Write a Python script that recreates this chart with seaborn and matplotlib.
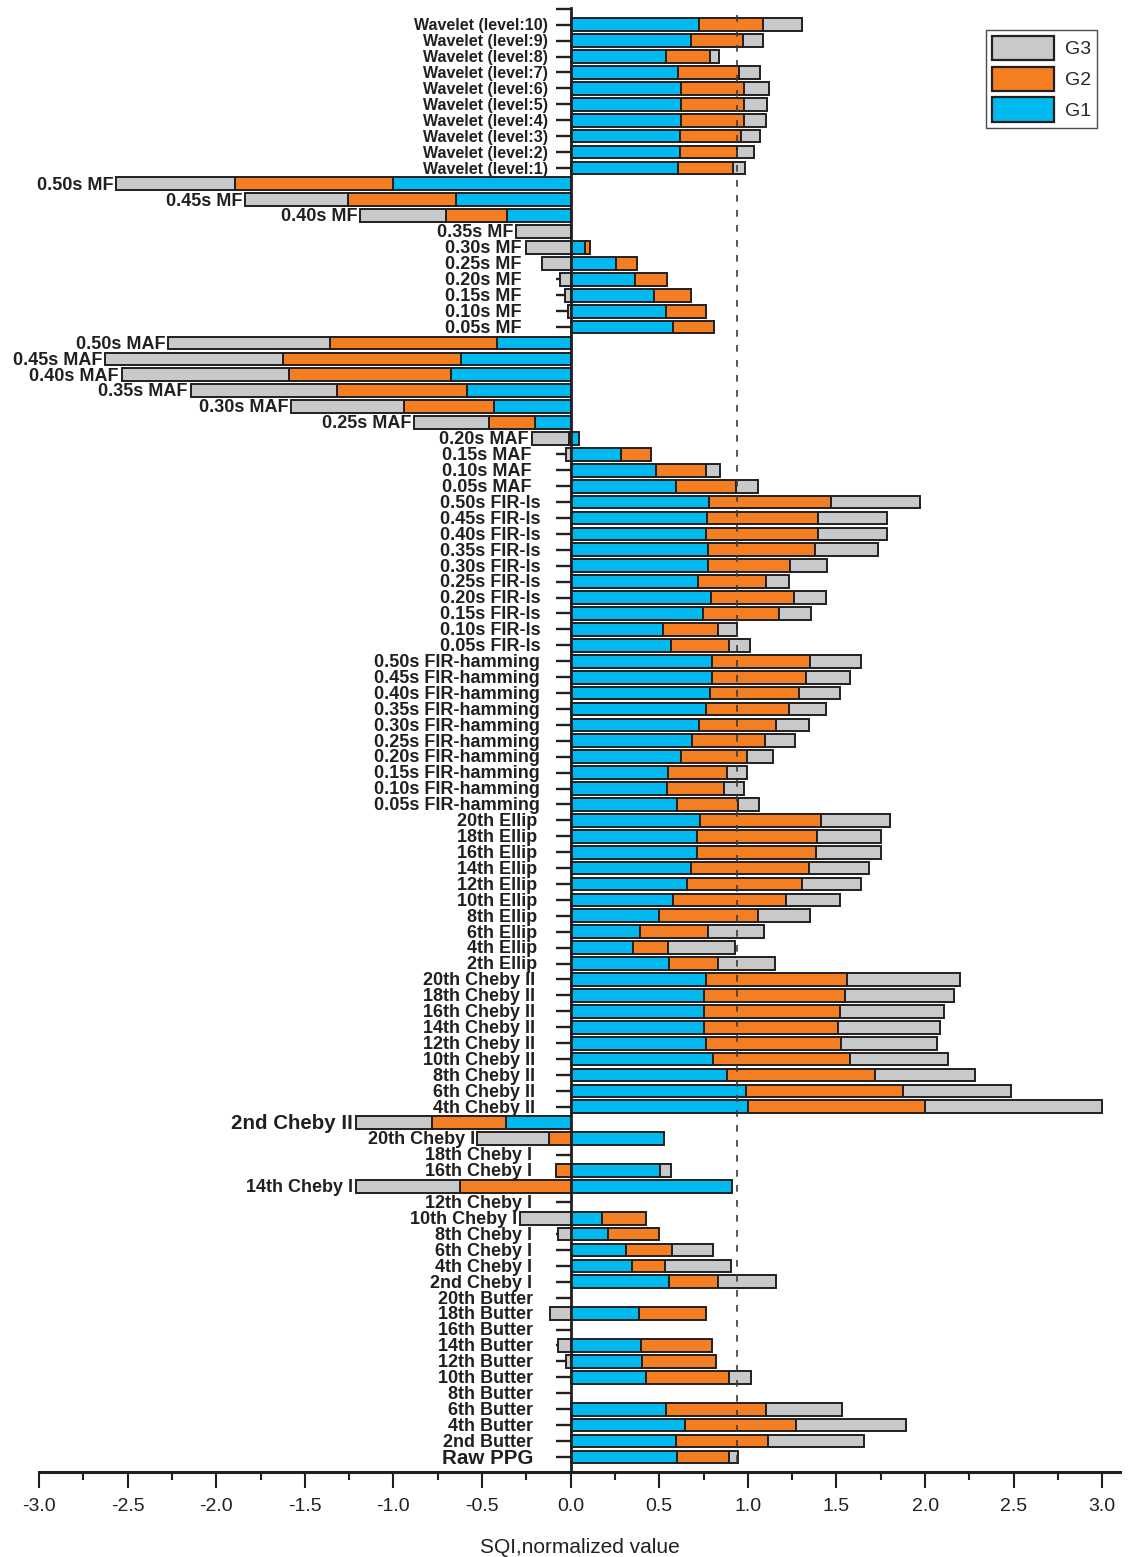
import numpy as np
import pandas as pd
import matplotlib
matplotlib.use("Agg")
import matplotlib.pyplot as plt
from matplotlib.patches import Patch
from matplotlib.ticker import MultipleLocator, FormatStrFormatter
import seaborn as sns

# ---- data, top row first ----
wavelet_labels = ["Wavelet (level:10)", "Wavelet (level:9)", "Wavelet (level:8)", "Wavelet (level:7)",
                  "Wavelet (level:6)", "Wavelet (level:5)", "Wavelet (level:4)", "Wavelet (level:3)",
                  "Wavelet (level:2)", "Wavelet (level:1)"]
wavelet_g1 = [0.727, 0.677, 0.539, 0.605, 0.624, 0.624, 0.620, 0.618, 0.615, 0.605]
wavelet_g2 = [0.358, 0.295, 0.250, 0.344, 0.357, 0.357, 0.356, 0.341, 0.325, 0.310]
wavelet_g3 = [0.221, 0.113, 0.051, 0.122, 0.136, 0.128, 0.124, 0.112, 0.094, 0.070]

mf_labels = ["0.50s MF", "0.45s MF", "0.40s MF", "0.35s MF", "0.30s MF",
             "0.25s MF", "0.20s MF", "0.15s MF", "0.10s MF", "0.05s MF"]
mf_g1 = [-1.000, -0.645, -0.360, 0, 0.083, 0.255, 0.366, 0.470, 0.538, 0.575]
mf_g2 = [-0.892, -0.611, -0.346, 0, 0.025, 0.117, 0.176, 0.207, 0.224, 0.234]
mf_g3 = [-0.673, -0.579, -0.481, -0.306, -0.253, -0.160, -0.060, -0.030, -0.017, 0]

maf_labels = ["0.50s MAF", "0.45s MAF", "0.40s MAF", "0.35s MAF", "0.30s MAF",
              "0.25s MAF", "0.20s MAF", "0.15s MAF", "0.10s MAF", "0.05s MAF"]
maf_g1 = [-0.414, -0.619, -0.673, -0.583, -0.430, -0.203, 0.047, 0.283, 0.479, 0.594]
maf_g2 = [-0.946, -1.004, -0.918, -0.738, -0.509, -0.259, -0.010, 0.170, 0.285, 0.340]
maf_g3 = [-0.911, -1.004, -0.943, -0.824, -0.637, -0.423, -0.210, -0.025, 0.081, 0.124]

firls_labels = ["0.50s FIR-ls", "0.45s FIR-ls", "0.40s FIR-ls", "0.35s FIR-ls", "0.30s FIR-ls",
                "0.25s FIR-ls", "0.20s FIR-ls", "0.15s FIR-ls", "0.10s FIR-ls", "0.05s FIR-ls"]
firls_g1 = [0.783, 0.768, 0.764, 0.777, 0.777, 0.721, 0.792, 0.749, 0.523, 0.566]
firls_g2 = [0.687, 0.628, 0.632, 0.604, 0.463, 0.381, 0.466, 0.428, 0.307, 0.330]
firls_g3 = [0.502, 0.387, 0.387, 0.353, 0.207, 0.132, 0.184, 0.180, 0.108, 0.117]

firham_labels = ["0.50s FIR-hamming", "0.45s FIR-hamming", "0.40s FIR-hamming", "0.35s FIR-hamming",
                 "0.30s FIR-hamming", "0.25s FIR-hamming", "0.20s FIR-hamming", "0.15s FIR-hamming",
                 "0.10s FIR-hamming", "0.05s FIR-hamming"]
firham_g1 = [0.796, 0.796, 0.787, 0.764, 0.726, 0.683, 0.621, 0.551, 0.545, 0.598]
firham_g2 = [0.557, 0.532, 0.500, 0.466, 0.434, 0.411, 0.373, 0.330, 0.323, 0.345]
firham_g3 = [0.287, 0.251, 0.232, 0.213, 0.183, 0.174, 0.148, 0.117, 0.113, 0.121]

ellip_labels = ["20th Ellip", "18th Ellip", "16th Ellip", "14th Ellip", "12th Ellip",
                "10th Ellip", "8th Ellip", "6th Ellip", "4th Ellip", "2th Ellip"]
ellip_g1 = [0.730, 0.715, 0.711, 0.679, 0.657, 0.579, 0.496, 0.391, 0.353, 0.557]
ellip_g2 = [0.685, 0.676, 0.674, 0.664, 0.649, 0.636, 0.564, 0.383, 0.198, 0.277]
ellip_g3 = [0.387, 0.362, 0.364, 0.340, 0.330, 0.304, 0.293, 0.315, 0.374, 0.321]

cheb2_labels = ["20th Cheby II", "18th Cheby II", "16th Cheby II", "14th Cheby II", "12th Cheby II",
                "10th Cheby II", "8th Cheby II", "6th Cheby II", "4th Cheby II", "2nd Cheby II"]
cheb2_g1 = [0.765, 0.755, 0.750, 0.750, 0.765, 0.801, 0.881, 0.987, 1.000, -0.363]
cheb2_g2 = [0.793, 0.791, 0.771, 0.761, 0.758, 0.778, 0.836, 0.889, 1.000, -0.419]
cheb2_g3 = [0.637, 0.619, 0.586, 0.571, 0.546, 0.548, 0.566, 0.609, 1.000, -0.430]

cheb1_labels = ["20th Cheby I", "18th Cheby I", "16th Cheby I", "14th Cheby I", "12th Cheby I",
                "10th Cheby I", "8th Cheby I", "6th Cheby I", "4th Cheby I", "2nd Cheby I"]
cheb1_g1 = [0.526, 0, 0.504, 0.913, 0, 0.179, 0.211, 0.311, 0.347, 0.557]
cheb1_g2 = [-0.124, 0, -0.081, -0.626, 0, 0.249, 0.289, 0.263, 0.185, 0.277]
cheb1_g3 = [-0.402, 0, 0.062, -0.586, 0, -0.288, -0.074, 0.232, 0.374, 0.324]

butter_labels = ["20th Butter", "18th Butter", "16th Butter", "14th Butter", "12th Butter",
                 "10th Butter", "8th Butter", "6th Butter", "4th Butter", "2nd Butter"]
butter_g1 = [0, 0.387, 0, 0.396, 0.404, 0.425, 0, 0.538, 0.645, 0.594]
butter_g2 = [0, 0.377, 0, 0.400, 0.417, 0.471, 0, 0.564, 0.629, 0.517]
butter_g3 = [0, -0.115, 0, -0.072, -0.025, 0.121, 0, 0.430, 0.617, 0.547]

raw_labels = ["Raw PPG"]
raw_g1 = [0.598]
raw_g2 = [0.298]
raw_g3 = [0.047]

ref_line = 0.938  # dashed reference (Raw PPG total)

groups = [
    ("Wavelet", wavelet_labels, wavelet_g1, wavelet_g2, wavelet_g3),
    ("MF", mf_labels, mf_g1, mf_g2, mf_g3),
    ("MAF", maf_labels, maf_g1, maf_g2, maf_g3),
    ("FIR-ls", firls_labels, firls_g1, firls_g2, firls_g3),
    ("FIR-hamming", firham_labels, firham_g1, firham_g2, firham_g3),
    ("Ellip", ellip_labels, ellip_g1, ellip_g2, ellip_g3),
    ("Cheby II", cheb2_labels, cheb2_g1, cheb2_g2, cheb2_g3),
    ("Cheby I", cheb1_labels, cheb1_g1, cheb1_g2, cheb1_g3),
    ("Butter", butter_labels, butter_g1, butter_g2, butter_g3),
    ("Raw", raw_labels, raw_g1, raw_g2, raw_g3),
]

df = pd.concat([pd.DataFrame({"group": g, "label": lab, "G1": a, "G2": b, "G3": c})
                for g, lab, a, b, c in groups], ignore_index=True)

# label placement / style per group
label_x = {"Wavelet": -0.13, "MF": -0.28, "MAF": -0.22, "FIR-ls": -0.17, "FIR-hamming": -0.175,
           "Ellip": -0.19, "Cheby II": -0.2, "Cheby I": -0.22, "Butter": -0.21, "Raw": -0.21}
label_size = {"Wavelet": 11.5}
big_labels = {"2nd Cheby II": 14.8, "Raw PPG": 14.8}

BLUE = "#00B9EE"
ORANGE = "#F47F22"
GRAY = "#C8C9CB"
EDGE = "#231F20"
LW = 1.4

sns.set_style("ticks")
plt.rcParams["font.family"] = ["Liberation Sans", "DejaVu Sans"]
plt.rcParams["axes.unicode_minus"] = False

fig = plt.figure(figsize=(11.37, 15.57), dpi=100)
ax = fig.add_axes([39 / 1137, 85 / 1557, 1081 / 1137, 1464 / 1557])

n = len(df)
pos = np.arange(n)

# G1 starts at zero -> seaborn bar plot
df["G1p"] = df["G1"].replace(0, np.nan)
sns.barplot(data=df, x="G1p", y="label", order=list(df["label"]), orient="h",
            color=BLUE, saturation=1, edgecolor=EDGE, linewidth=LW, width=0.8,
            errorbar=None, ax=ax)

pos_end = np.where(df["G1"] > 0, df["G1"], 0.0)
neg_end = np.where(df["G1"] < 0, df["G1"], 0.0)

for col, color in [("G2", ORANGE), ("G3", GRAY)]:
    v = df[col].to_numpy(dtype=float)
    left = np.where(v >= 0, pos_end, neg_end)
    m = v != 0
    ax.barh(pos[m], v[m], left=left[m], height=0.8, color=color,
            edgecolor=EDGE, linewidth=LW)
    pos_end = pos_end + np.where(v > 0, v, 0)
    neg_end = neg_end + np.where(v < 0, v, 0)

# row labels next to the bars
for i, r in df.iterrows():
    x = min(neg_end[i] - 0.015, label_x[r["group"]])
    size = big_labels.get(r["label"], label_size.get(r["group"], 13))
    ax.text(x, i + 0.08, r["label"], ha="right", va="center", fontsize=size,
            fontweight="bold", color=EDGE)

ax.plot([ref_line, ref_line], [-0.6, n - 0.4], color="#3a3a3a", lw=1.2,
        ls=(0, (4, 5)), zorder=5)

ax.set_xlim(-3.0, 3.1)
ax.set_ylim(n - 0.05, -1.05)
ax.spines["left"].set_position(("data", 0))
ax.spines["left"].set_linewidth(2.0)
ax.spines["left"].set_color(EDGE)
ax.spines["bottom"].set_linewidth(2.2)
ax.spines["bottom"].set_color(EDGE)
ax.spines["top"].set_visible(False)
ax.spines["right"].set_visible(False)

ax.set_yticks(np.arange(-1, n))
ax.tick_params(axis="y", which="major", direction="out", length=11, width=1.7,
               color=EDGE, labelleft=False)
ax.set_ylabel("")

ax.xaxis.set_major_locator(MultipleLocator(0.5))
ax.xaxis.set_minor_locator(MultipleLocator(0.25))
ax.xaxis.set_major_formatter(FormatStrFormatter("%.1f"))
ax.tick_params(axis="x", which="major", direction="out", length=11.5, width=1.5,
               color=EDGE, labelsize=14, pad=7, labelcolor=EDGE)
ax.tick_params(axis="x", which="minor", direction="out", length=5.8, width=1.5, color=EDGE)
ax.set_xlabel("SQI,normalized value", fontsize=15, labelpad=17, color=EDGE)

handles = [Patch(facecolor=GRAY, edgecolor=EDGE, linewidth=1.6, label="G3"),
           Patch(facecolor=ORANGE, edgecolor=EDGE, linewidth=1.6, label="G2"),
           Patch(facecolor=BLUE, edgecolor=EDGE, linewidth=1.6, label="G1")]
leg = fig.legend(handles=handles, loc="upper right",
                 bbox_to_anchor=(1097 / 1137, 1 - 30 / 1557), frameon=True,
                 fancybox=False, edgecolor=EDGE, fontsize=14, handlelength=3.2,
                 handleheight=1.55, labelspacing=0.33, borderpad=0.3,
                 handletextpad=0.55, borderaxespad=0)
leg.get_frame().set_linewidth(1.0)

fig.savefig("out.png", dpi=100)
